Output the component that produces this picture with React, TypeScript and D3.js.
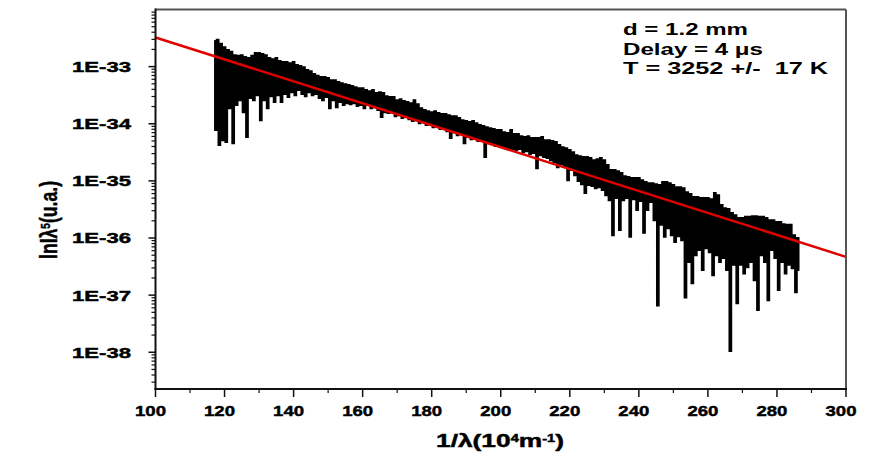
import React from "react";
import * as d3 from "d3";

// Sampling grid of the spectrum: 1/λ in 10^4 m^-1
const X_START = 117;
const X_STEP = 0.5;

// log10 of Iλ^5 (u.a.), one value per sample
const logIntensity = [
  -32.55,-34.11, -32.53,-34.37, -32.60,-34.29, -32.66,-34.32, -32.71,-33.73, -32.74,-34.34, -32.80,-33.67, -32.81,-33.59, -32.80,-33.80, -32.83,-34.23,
  -32.85,-33.55, -32.81,-33.59, -32.76,-33.50, -32.76,-33.94, -32.78,-33.59, -32.80,-33.73, -32.85,-33.52, -32.87,-33.62, -32.85,-33.50, -32.90,-33.62,
  -32.92,-33.48, -32.92,-33.53, -32.94,-33.45, -32.92,-33.50, -32.97,-33.41, -32.99,-33.48, -33.01,-33.52, -33.06,-33.45, -33.08,-33.50, -33.13,-33.48,
  -33.16,-33.55, -33.18,-33.59, -33.18,-33.53, -33.20,-33.73, -33.24,-33.59, -33.24,-33.71, -33.27,-33.62, -33.29,-33.67, -33.31,-33.64, -33.32,-33.66,
  -33.34,-33.64, -33.36,-33.69, -33.38,-33.67, -33.38,-33.73, -33.41,-33.67, -33.43,-33.73, -33.41,-33.71, -33.46,-33.76, -33.45,-33.88, -33.46,-33.80,
  -33.52,-33.81, -33.53,-33.80, -33.53,-33.87, -33.59,-33.85, -33.57,-33.90, -33.60,-33.88, -33.62,-33.92, -33.64,-33.95, -33.59,-33.94, -33.66,-33.99,
  -33.73,-33.97, -33.76,-34.02, -33.78,-34.01, -33.80,-34.06, -33.78,-34.04, -33.81,-34.09, -33.83,-34.08, -33.83,-34.13, -33.85,-34.25, -33.87,-34.15,
  -33.87,-34.20, -33.90,-34.18, -33.94,-34.34, -33.95,-34.23, -33.97,-34.27, -33.95,-34.25, -33.99,-34.30, -34.02,-34.29, -34.04,-34.58, -34.06,-34.34,
  -34.08,-34.36, -34.09,-34.39, -34.11,-34.37, -34.11,-34.39, -34.15,-34.41, -34.16,-34.43, -34.11,-34.44, -34.18,-34.46, -34.18,-34.44, -34.22,-34.50,
  -34.23,-34.48, -34.22,-34.53, -34.25,-34.51, -34.25,-34.78, -34.25,-34.55, -34.23,-34.58, -34.29,-34.60, -34.29,-34.64, -34.30,-34.67, -34.32,-34.76,
  -34.37,-34.71, -34.41,-34.74, -34.43,-34.99, -34.46,-34.81, -34.50,-34.90, -34.55,-35.00, -34.57,-35.06, -34.58,-35.21, -34.58,-35.07, -34.60,-35.09,
  -34.64,-35.13, -34.62,-35.11, -34.60,-35.16, -34.64,-35.25, -34.72,-35.34, -34.81,-35.95, -34.81,-35.30, -34.83,-35.86, -34.86,-35.34, -34.92,-35.30,
  -34.93,-35.98, -34.95,-35.32, -34.95,-35.51, -34.95,-35.35, -34.99,-35.91, -35.02,-35.51, -35.04,-35.37, -35.04,-35.69, -35.06,-37.18, -35.07,-35.77,
  -35.02,-35.98, -35.02,-35.83, -35.04,-35.95, -35.07,-36.07, -35.11,-35.97, -35.11,-36.04, -35.13,-37.04, -35.20,-36.42, -35.23,-36.79, -35.28,-36.30,
  -35.28,-36.21, -35.30,-36.56, -35.30,-36.18, -35.30,-36.25, -35.32,-36.65, -35.21,-36.30, -35.25,-36.42, -35.42,-36.35, -35.48,-36.56, -35.49,-37.98,
  -35.56,-36.47, -35.60,-37.14, -35.65,-36.47, -35.65,-36.62, -35.63,-36.51, -35.63,-36.42, -35.62,-36.74, -35.62,-37.26, -35.63,-36.30, -35.63,-36.42,
  -35.65,-37.09, -35.69,-36.21, -35.69,-36.35, -35.72,-36.91, -35.72,-36.42, -35.76,-36.62, -35.77,-36.47, -35.77,-36.53, -35.95,-36.95, -36.00,-36.56,
];

// Fitted Wien line (log10), endpoints
const fitX = [100, 300];
const fitLog = [-32.49, -36.33];

const xTicks = [100, 120, 140, 160, 180, 200, 220, 240, 260, 280, 300];
const xMinorTicks = [110, 130, 150, 170, 190, 210, 230, 250, 270, 290];
const yTickExps = [-38, -37, -36, -35, -34, -33];
const Y_MIN_EXP = -38.643;
const Y_MAX_EXP = -32;

const notes = ["d = 1.2 mm", "Delay = 4 μs", "T = 3252 +/-  17 K"];
const noteWidths = [125, 140, 205];

const FONT = "'Liberation Sans', Arial, Helvetica, sans-serif";

export default function App() {
  const W = 890;
  const H = 460;
  const left = 155.5, right = 846, top = 9.5, bottom = 389;

  const x = d3.scaleLinear().domain([100, 300]).range([left, right]);
  const y = d3
    .scaleLog()
    .domain([Math.pow(10, Y_MIN_EXP), Math.pow(10, Y_MAX_EXP)])
    .range([bottom, top]);

  const pts: [number, number][] = logIntensity.map((v, i) => [
    X_START + i * X_STEP,
    Math.pow(10, v),
  ]);
  const line = d3
    .line<[number, number]>()
    .x((d) => x(d[0]))
    .y((d) => y(d[1]))
    .curve(d3.curveStep);

  const fitPts: [number, number][] = fitX.map((v, i) => [v, Math.pow(10, fitLog[i])]);
  const fitLine = d3
    .line<[number, number]>()
    .x((d) => x(d[0]))
    .y((d) => y(d[1]));

  const minorY: number[] = [];
  for (let e = -39; e <= -33; e++) {
    for (let k = 2; k <= 9; k++) {
      const v = k * Math.pow(10, e);
      const py = y(v);
      if (py >= top && py <= bottom) minorY.push(v);
    }
  }

  const heavy = { stroke: "#000", strokeWidth: 0.45 };

  return (
    <svg
      width={W}
      height={H}
      style={{ position: "absolute", left: 0, top: 0, background: "#fff" }}
      fontFamily={FONT}
    >
      <rect x={0} y={0} width={W} height={H} fill="#fff" />

      {/* data */}
      <path d={line(pts) || ""} fill="none" stroke="#000" strokeWidth={2} />
      {/* fit */}
      <path d={fitLine(fitPts) || ""} fill="none" stroke="#e00000" strokeWidth={2.5} />

      {/* frame */}
      <line x1={left} x2={right} y1={top} y2={top} stroke="#555" strokeWidth={2} />
      <line x1={right} x2={right} y1={top} y2={bottom} stroke="#555" strokeWidth={2} />
      <line x1={left} x2={left} y1={top - 1} y2={bottom + 1} stroke="#111" strokeWidth={2} />
      <line x1={left - 1} x2={right + 1} y1={bottom} y2={bottom} stroke="#111" strokeWidth={2} />

      {/* y ticks */}
      {minorY.map((v, i) => (
        <line key={"ym" + i} x1={left - 4} x2={left} y1={y(v)} y2={y(v)} stroke="#111" strokeWidth={1.2} />
      ))}
      {yTickExps.map((e) => {
        const v = Math.pow(10, e);
        return (
          <g key={"y" + e}>
            <line x1={left - 7} x2={left} y1={y(v)} y2={y(v)} stroke="#111" strokeWidth={1.5} />
            <text
              x={131}
              y={y(v) + 5.4}
              textAnchor="end"
              fontSize={15}
              fontWeight="bold"
              textLength={59}
              lengthAdjust="spacingAndGlyphs"
              fill="#000"
              {...heavy}
            >
              {`1E${e}`}
            </text>
          </g>
        );
      })}

      {/* x ticks */}
      {xMinorTicks.map((v) => (
        <line key={"xm" + v} x1={x(v)} x2={x(v)} y1={bottom} y2={bottom + 4} stroke="#111" strokeWidth={1.2} />
      ))}
      {xTicks.map((v) => (
        <g key={"x" + v}>
          <line x1={x(v)} x2={x(v)} y1={bottom} y2={bottom + 8} stroke="#111" strokeWidth={1.5} />
          <text
            x={x(v) - 5}
            y={416}
            textAnchor="middle"
            fontSize={15.5}
            fontWeight="bold"
            textLength={31}
            lengthAdjust="spacingAndGlyphs"
            fill="#000"
            {...heavy}
          >
            {String(v)}
          </text>
        </g>
      ))}

      {/* axis titles */}
      <text
        x={500}
        y={447}
        textAnchor="middle"
        fontSize={18}
        fontWeight="bold"
        textLength={128}
        lengthAdjust="spacingAndGlyphs"
        fill="#000"
        {...heavy}
      >
        1/λ(10<tspan baselineShift="super" fontSize={10}>4</tspan>m<tspan baselineShift="super" fontSize={10}>-1</tspan>)
      </text>
      <text
        transform="translate(57,220) rotate(-90)"
        textAnchor="middle"
        fontSize={23}
        fontWeight="bold"
        textLength={78}
        lengthAdjust="spacingAndGlyphs"
        fill="#000"
        {...heavy}
      >
        lnIλ<tspan baselineShift="super" fontSize={13}>5</tspan>(u.a.)
      </text>

      {/* annotation */}
      {notes.map((t, i) => (
        <text
          key={"n" + i}
          x={623}
          y={35 + i * 19.5}
          fontSize={16}
          fontWeight="bold"
          textLength={noteWidths[i]}
          lengthAdjust="spacingAndGlyphs"
          style={{ whiteSpace: "pre" }}
          fill="#000"
        >
          {t}
        </text>
      ))}
    </svg>
  );
}
